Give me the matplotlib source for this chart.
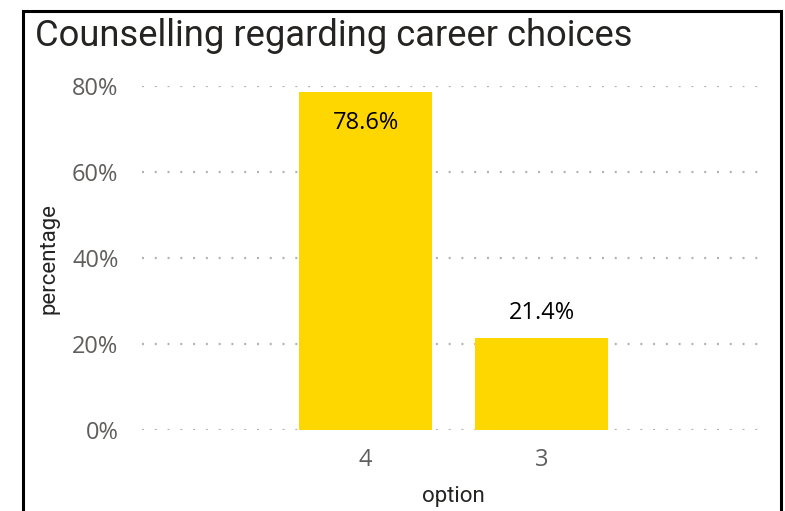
import matplotlib
matplotlib.use("Agg")
import matplotlib.pyplot as plt
from matplotlib.patches import Rectangle

categories = ["4", "3"]
values = [78.6, 21.4]
yticks = [0, 20, 40, 60, 80]
title = "Counselling regarding career choices"

plt.rcParams['lines.scale_dashes'] = False
fig = plt.figure(figsize=(7.85, 5.11), dpi=100)
fig.patch.set_facecolor("white")

# border
fig.add_artist(Rectangle((23/785, -0.1), (781-23)/785, 1 - 11/511 + 0.1,
                         transform=fig.transFigure, fill=False, edgecolor="black", linewidth=2.2))

ax = fig.add_axes([142/785, 1-430/511, (764-142)/785, (430-86)/511])
x = list(range(len(categories)))
bars = ax.bar(x, values, width=0.756, color="#FFD700", zorder=2)
ax.set_xlim(-1.27, 2.264)
ax.set_ylim(0, 80)
ax.set_yticks(yticks)
ax.set_yticklabels([f"{t}%" for t in yticks])
ax.set_xticks(x)
ax.set_xticklabels(categories)
for s in ax.spines.values():
    s.set_visible(False)
ax.tick_params(length=0, colors="#605E5C", labelsize=17)
ax.tick_params(axis="y", pad=17)
ax.tick_params(axis="x", pad=13)
for lab in ax.get_xticklabels() + ax.get_yticklabels():
    lab.set_fontfamily("Open Sans")
ax.yaxis.grid(True, color="#b0b0b0", linewidth=1.6, dashes=(1.4, 7.8), zorder=0)
ax.set_axisbelow(True)

for xi, v in zip(x, values):
    if v > 50:
        ax.text(xi, v - 4.5, f"{v}%", ha="center", va="top", fontsize=17, color="black", family="Open Sans")
    else:
        ax.text(xi, v + 3.0, f"{v}%", ha="center", va="bottom", fontsize=17, color="black", family="Open Sans")

ax.set_xlabel("option", fontsize=16, color="#252423", family="Roboto", labelpad=10)
ax.set_ylabel("percentage", fontsize=16, color="#252423", family="Roboto", labelpad=9)

fig.text(35/785, 1-46/511, title, fontsize=26.2, color="#252423", family="Roboto", ha="left", va="baseline")

fig.savefig("out.png", dpi=100)
